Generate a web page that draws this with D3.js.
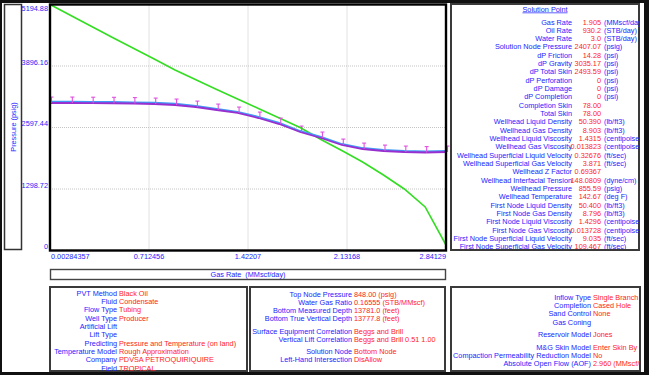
<!DOCTYPE html>
<html>
<head>
<meta charset="utf-8">
<script src="https://cdn.jsdelivr.net/npm/d3@7"></script>
<style>
  body { margin: 0; background: #fff; }
  svg text { font-family: "Liberation Sans", Arial, sans-serif; font-size: 7.3px; }
  .lab { fill: #2424ff; }
  .val { fill: #ff2424; }
</style>
</head>
<body>
<div id="chart"></div>
<script>
// DATA

var gasRate = [0.00284, 0.15224, 0.30163, 0.45102, 0.60041, 0.74980, 0.89920, 1.04859, 1.19798, 1.34737,
               1.49676, 1.64615, 1.79554, 1.94494, 2.09433, 2.24372, 2.39311, 2.54250, 2.69190, 2.84129]
var inflow = [5194.88, 4962, 4730, 4498, 4270, 4044, 3812, 3605, 3400, 3199,
              2999, 2798, 2597, 2344, 2112, 1869, 1594, 1299, 919, 116]
var outflow = [3115, 3115, 3112, 3110, 3104, 3094, 3073, 3030, 2967, 2904,
               2798, 2671, 2502, 2376, 2228, 2143, 2101, 2080, 2069, 2080]
var outflowBlue = [3140, 3140, 3137, 3134, 3128, 3118, 3097, 3053, 2990, 2926,
                   2820, 2692, 2522, 2396, 2247, 2162, 2120, 2099, 2089, 2099]
var outflowUpper = [3240, 3240, 3237, 3235, 3229, 3219, 3198, 3155, 3092, 3029,
                    2923, 2796, 2627, 2501, 2353, 2268, 2226, 2205, 2194, 2205]

var xTicks = [0.00284357, 0.712456, 1.42207, 2.13168, 2.84129]
var xTickText = ["0.00284357", "0.712456", "1.42207", "2.13168", "2.84129"]
var yTicks = [0, 1298.72, 2597.44, 3896.16, 5194.88]
var yTickText = ["0", "1298.72", "2597.44", "3896.16", "5194.88"]

var solLabels = ["Gas Rate", "Oil Rate", "Water Rate", "Solution Node Pressure", "dP Friction", "dP Gravity",
  "dP Total Skin", "dP Perforation", "dP Damage", "dP Completion", "Completion Skin", "Total Skin",
  "Wellhead Liquid Density", "Wellhead Gas Density", "Wellhead Liquid Viscosity", "Wellhead Gas Viscosity",
  "Wellhead Superficial Liquid Velocity", "Wellhead Superficial Gas Velocity", "Wellhead Z Factor",
  "Wellhead Interfacial Tension", "Wellhead Pressure", "Wellhead Temperature", "First Node Liquid Density",
  "First Node Gas Density", "First Node Liquid Viscosity", "First Node Gas Viscosity",
  "First Node Superficial Liquid Velocity", "First Node Superficial Gas Velocity"]
var solValues = ["1.905", "930.2", "3.0", "2407.07", "14.28", "3035.17", "2493.59", "0", "0", "0", "78.00", "78.00",
  "50.390", "8.903", "1.4315", "0.013823", "0.32676", "3.871", "0.69367", "148.0809", "855.59", "142.67",
  "50.400", "8.796", "1.4296", "0.013728", "9.035", "109.467"]
var solUnits = ["(MMscf/day)", "(STB/day)", "(STB/day)", "(psig)", "(psi)", "(psi)", "(psi)", "(psi)", "(psi)", "(psi)",
  "", "", "(lb/ft3)", "(lb/ft3)", "(centipoise)", "(centipoise)", "(ft/sec)", "(ft/sec)", "", "(dyne/cm)",
  "(psig)", "(deg F)", "(lb/ft3)", "(lb/ft3)", "(centipoise)", "(centipoise)", "(ft/sec)", "(ft/sec)"]

var box1Labels = ["PVT Method", "Fluid", "Flow Type", "Well Type", "Artificial Lift", "Lift Type",
  "Predicting", "Temperature Model", "Company", "Field"]
var box1Values = ["Black Oil", "Condensate", "Tubing", "Producer", "", "",
  "Pressure and Temperature (on land)", "Rough Approximation", "PDVSA PETROQUIRIQUIRE", "TROPICAL"]

var box2Labels = ["Top Node Pressure", "Water Gas Ratio", "Bottom Measured Depth", "Bottom True Vertical Depth",
  "Surface Equipment Correlation", "Vertical Lift Correlation", "Solution Node", "Left-Hand Intersection"]
var box2Values = ["848.00 (psig)", "0.16555 (STB/MMscf)", "13781.0 (feet)", "13777.8 (feet)",
  "Beggs and Brill", "Beggs and Brill 0.51 1.00", "Bottom Node", "DisAllow"]

var box3Labels = ["Inflow Type", "Completion", "Sand Control", "Gas Coning", "Reservoir Model",
  "M&G Skin Model", "Compaction Permeability Reduction Model", "Absolute Open Flow (AOF)"]
var box3Values = ["Single Branch", "Cased Hole", "None", "", "Jones", "Enter Skin By Hand", "No", "2.960 (MMscf/day)"]

// LAYOUT

var svgWidth = 649
var svgHeight = 375

var plot = { left: 50, right: 446, top: 4.5, bottom: 250.5 }

var svg = d3.select("#chart").append("svg")
    .attr("width", svgWidth)
    .attr("height", svgHeight)

var defs = svg.append("defs")
function clip(id, x, y, w, h) {
    defs.append("clipPath").attr("id", id)
        .append("rect").attr("x", x).attr("y", y).attr("width", w).attr("height", h)
}
clip("clipSol", 452, 5, 187, 244)
clip("clipB1", 51, 288, 195, 83)
clip("clipB2", 251, 288, 193, 82)
clip("clipB3", 452, 288, 188, 82)

// outer frame
svg.append("rect").attr("x", 0).attr("y", 0).attr("width", svgWidth).attr("height", 3).attr("fill", "#111")
svg.append("rect").attr("x", 0).attr("y", 0).attr("width", 2).attr("height", svgHeight).attr("fill", "#111")
svg.append("rect").attr("x", 644).attr("y", 0).attr("width", 5).attr("height", svgHeight).attr("fill", "#111")
svg.append("rect").attr("x", 0).attr("y", 372).attr("width", svgWidth).attr("height", 3).attr("fill", "#111")

var xScale = d3.scaleLinear().domain([0.00284357, 2.84129]).range([plot.left, plot.right])
var yScale = d3.scaleLinear().domain([0, 5194.88]).range([plot.bottom, plot.top])

// gridlines
svg.append("g").selectAll("line")
    .data(xTicks.slice(1, -1))
    .enter().append("line")
    .attr("x1", d => xScale(d)).attr("x2", d => xScale(d))
    .attr("y1", plot.top).attr("y2", plot.bottom)
    .attr("stroke", "#c4c4c4").attr("stroke-dasharray", "1,1")

svg.append("g").selectAll("line")
    .data(yTicks.slice(1, -1))
    .enter().append("line")
    .attr("y1", d => yScale(d)).attr("y2", d => yScale(d))
    .attr("x1", plot.left).attr("x2", plot.right)
    .attr("stroke", "#c4c4c4").attr("stroke-dasharray", "1,1")

// tick labels
svg.append("g").selectAll("text")
    .data(yTicks)
    .enter().append("text")
    .attr("class", "lab")
    .attr("x", 48)
    .attr("y", d => Math.max(yScale(d) - 1.5, 11))
    .attr("text-anchor", "end")
    .text((d, i) => yTickText[i])

svg.append("g").selectAll("text")
    .data(xTicks)
    .enter().append("text")
    .attr("class", "lab")
    .attr("x", (d, i) => i == 0 ? xScale(d) + 1 : xScale(d))
    .attr("y", 259)
    .attr("text-anchor", (d, i) => i == 0 ? "start" : (i == xTicks.length - 1 ? "end" : "middle"))
    .text((d, i) => xTickText[i])

// curves
var line = d3.line().x((d, i) => xScale(gasRate[i])).y(d => yScale(d))

svg.append("path").datum(inflow)
    .attr("d", line).attr("fill", "none").attr("stroke", "#33dd22").attr("stroke-width", 1.6)

svg.append("path").datum(outflowBlue)
    .attr("d", line).attr("fill", "none").attr("stroke", "#3f9cf5").attr("stroke-width", 2)

svg.append("path").datum(outflow)
    .attr("d", line).attr("fill", "none").attr("stroke", "#9a2fd0").attr("stroke-width", 1.8)

var bars = svg.append("g").attr("stroke", "#e050e0").attr("stroke-width", 1.1)
bars.selectAll("line.stem")
    .data(outflowUpper)
    .enter().append("line")
    .attr("class", "stem")
    .attr("x1", (d, i) => xScale(gasRate[i]) + 1.5).attr("x2", (d, i) => xScale(gasRate[i]) + 1.5)
    .attr("y1", (d, i) => yScale(outflow[i])).attr("y2", d => yScale(d))
bars.selectAll("line.cap")
    .data(outflowUpper)
    .enter().append("line")
    .attr("class", "cap")
    .attr("x1", (d, i) => xScale(gasRate[i]) - 0.5).attr("x2", (d, i) => xScale(gasRate[i]) + 3.5)
    .attr("y1", d => yScale(d)).attr("y2", d => yScale(d))

// plot border
svg.append("rect")
    .attr("x", plot.left).attr("y", plot.top)
    .attr("width", plot.right - plot.left).attr("height", plot.bottom - plot.top)
    .attr("fill", "none").attr("stroke", "#000").attr("stroke-width", 2.4)

// axis title boxes
svg.append("rect").attr("x", 4.5).attr("y", 4.5).attr("width", 17).attr("height", 245)
    .attr("fill", "none").attr("stroke", "#333").attr("stroke-width", 1.5)
svg.append("text").attr("class", "lab")
    .attr("transform", "translate(15.5, 127) rotate(-90)")
    .attr("text-anchor", "middle")
    .text("Pressure  (psig)")

svg.append("rect").attr("x", 50.5).attr("y", 269.5).attr("width", 395).attr("height", 10)
    .attr("fill", "none").attr("stroke", "#444").attr("stroke-width", 1.4)
svg.append("text").attr("class", "lab")
    .attr("x", 248).attr("y", 277)
    .attr("text-anchor", "middle")
    .style("white-space", "pre")
    .text("Gas Rate  (MMscf/day)")

// solution point panel
svg.append("rect").attr("x", 451).attr("y", 4).attr("width", 188).attr("height", 246)
    .attr("fill", "none").attr("stroke", "#3a3a3a").attr("stroke-width", 2)

var sol = svg.append("g").attr("clip-path", "url(#clipSol)")
sol.append("text").attr("class", "lab")
    .attr("x", 545).attr("y", 11.5)
    .attr("text-anchor", "middle")
    .attr("text-decoration", "underline")
    .text("Solution Point")

var rowY = d3.scaleLinear().domain([0, 1]).range([24.5, 32.83])

sol.selectAll("text.sl")
    .data(solLabels).enter().append("text")
    .attr("class", "lab sl")
    .attr("x", 572).attr("y", (d, i) => rowY(i))
    .attr("text-anchor", "end")
    .text(d => d)
sol.selectAll("text.sv")
    .data(solValues).enter().append("text")
    .attr("class", "val sv")
    .attr("x", 601).attr("y", (d, i) => rowY(i))
    .attr("text-anchor", "end")
    .text(d => d)
sol.selectAll("text.su")
    .data(solUnits).enter().append("text")
    .attr("class", "lab su")
    .attr("x", 604).attr("y", (d, i) => rowY(i))
    .text(d => d)

// bottom boxes
function infoBox(x, y, w, h, clipId, labels, values, ys, labelX) {
    svg.append("rect").attr("x", x).attr("y", y).attr("width", w).attr("height", h)
        .attr("fill", "none").attr("stroke", "#3a3a3a").attr("stroke-width", 2)
    var g = svg.append("g").attr("clip-path", "url(#" + clipId + ")")
    g.selectAll("text.bl")
        .data(labels).enter().append("text")
        .attr("class", "lab bl")
        .attr("x", labelX).attr("y", (d, i) => ys[i])
        .attr("text-anchor", "end")
        .text(d => d)
    g.selectAll("text.bv")
        .data(values).enter().append("text")
        .attr("class", "val bv")
        .attr("x", labelX + 2).attr("y", (d, i) => ys[i])
        .text(d => d)
}

infoBox(50, 287, 197, 84, "clipB1", box1Labels, box1Values,
    [295.5, 303.8, 312.1, 320.5, 328.8, 337.1, 345.5, 353.8, 362.1, 370.5], 117)
infoBox(250, 287, 195, 84, "clipB2", box2Labels, box2Values,
    [296.5, 304.5, 312.5, 320.5, 333.5, 341.5, 353.5, 362], 352)
infoBox(451, 287, 189, 84, "clipB3", box3Labels, box3Values,
    [299.5, 307.5, 315.5, 324.5, 336.5, 349.5, 357.5, 365.5], 591)

</script>
</body>
</html>
